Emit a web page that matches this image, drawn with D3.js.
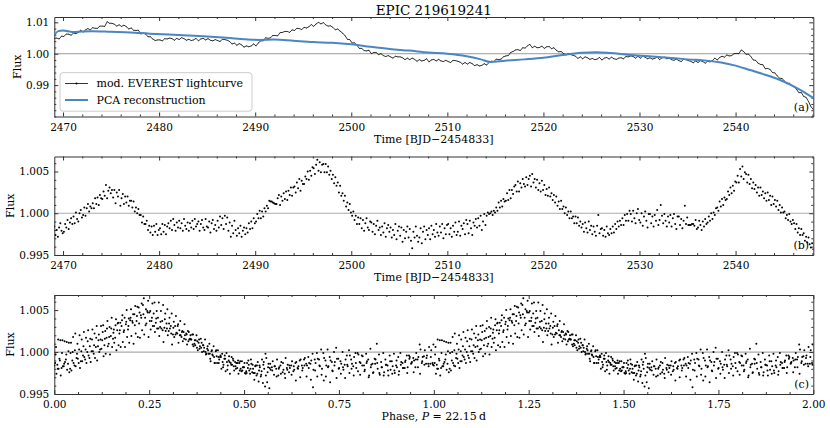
<!DOCTYPE html>
<html>
<head>
<meta charset="utf-8">
<title>EPIC 219619241</title>
<script src="https://d3js.org/d3.v7.min.js"></script>
<style>
  body { margin: 0; background: #fff; }
  svg { font-family: "DejaVu Serif", serif; }
  .tick text { font-family: "DejaVu Serif", serif; font-size: 10.5px; fill: #000; }
  .domain, .tick line { stroke: #333; }
  .lbl { font-size: 11px; fill: #000; }
</style>
</head>
<body>
<div id="chart"></div>
<script>
// sampling of the K2 light curve (BJD-2454833)
const tStart = 2469.09;
const rawCadence = 0.25;    // panel (a), days
const detCadence = 0.125;   // panels (b) and (c), days
const period = 22.15;       // folding period, days

// panel (a): modified EVEREST flux, one row per day
const rawFlux = [
  1.0049, 1.0050, 1.0047, 1.0056,
  1.0055, 1.0063, 1.0062, 1.0059,
  1.0066, 1.0064, 1.0068, 1.0075,
  1.0069, 1.0076, 1.0080, 1.0076,
  1.0083, 1.0081, 1.0081, 1.0088,
  1.0088, 1.0087, 1.0102, 1.0097,
  1.0097, 1.0094, 1.0088, 1.0092,
  1.0087, 1.0091, 1.0086, 1.0079,
  1.0082, 1.0075, 1.0074, 1.0075,
  1.0063, 1.0065, 1.0063, 1.0054,
  1.0054, 1.0047, 1.0042, 1.0044,
  1.0044, 1.0041, 1.0048, 1.0047,
  1.0050, 1.0048, 1.0043, 1.0049,
  1.0045, 1.0051, 1.0048, 1.0043,
  1.0046, 1.0042, 1.0044, 1.0049,
  1.0041, 1.0047, 1.0049, 1.0044,
  1.0048, 1.0043, 1.0041, 1.0045,
  1.0042, 1.0039, 1.0046, 1.0045,
  1.0043, 1.0039, 1.0031, 1.0034,
  1.0027, 1.0032, 1.0028, 1.0021,
  1.0025, 1.0022, 1.0025, 1.0031,
  1.0025, 1.0035, 1.0041, 1.0041,
  1.0051, 1.0049, 1.0051, 1.0058,
  1.0058, 1.0057, 1.0067, 1.0068,
  1.0071, 1.0071, 1.0068, 1.0076,
  1.0074, 1.0081, 1.0080, 1.0077,
  1.0084, 1.0082, 1.0086, 1.0093,
  1.0087, 1.0095, 1.0100, 1.0095,
  1.0099, 1.0092, 1.0088, 1.0089,
  1.0084, 1.0076, 1.0079, 1.0072,
  1.0066, 1.0058, 1.0046, 1.0045,
  1.0034, 1.0035, 1.0027, 1.0017,
  1.0017, 1.0010, 1.0009, 1.0011,
  1.0000, 1.0004, 1.0004, 0.9997,
  1.0000, 0.9994, 0.9991, 0.9994,
  0.9990, 0.9986, 0.9992, 0.9990,
  0.9990, 0.9987, 0.9981, 0.9986,
  0.9981, 0.9986, 0.9982, 0.9976,
  0.9981, 0.9977, 0.9979, 0.9984,
  0.9974, 0.9980, 0.9982, 0.9977,
  0.9982, 0.9977, 0.9975, 0.9979,
  0.9975, 0.9972, 0.9979, 0.9978,
  0.9976, 0.9973, 0.9967, 0.9972,
  0.9967, 0.9972, 0.9968, 0.9962,
  0.9965, 0.9961, 0.9963, 0.9968,
  0.9964, 0.9972, 0.9976, 0.9975,
  0.9983, 0.9981, 0.9983, 0.9990,
  0.9993, 0.9994, 1.0004, 1.0007,
  1.0012, 1.0013, 1.0010, 1.0019,
  1.0018, 1.0025, 1.0030, 1.0019,
  1.0024, 1.0019, 1.0020, 1.0024,
  1.0017, 1.0022, 1.0023, 1.0016,
  1.0019, 1.0011, 1.0006, 1.0007,
  1.0001, 0.9996, 1.0001, 0.9997,
  0.9995, 0.9992, 0.9985, 0.9990,
  0.9984, 0.9990, 0.9987, 0.9982,
  0.9985, 0.9981, 0.9983, 0.9988,
  0.9980, 0.9986, 0.9988, 0.9983,
  0.9989, 0.9984, 0.9982, 0.9986,
  0.9987, 0.9984, 0.9991, 0.9990,
  0.9993, 0.9991, 0.9986, 0.9992,
  0.9986, 0.9992, 0.9989, 0.9984,
  0.9987, 0.9983, 0.9985, 0.9990,
  0.9981, 0.9987, 0.9989, 0.9984,
  0.9986, 0.9981, 0.9979, 0.9983,
  0.9978, 0.9975, 0.9982, 0.9981,
  0.9978, 0.9976, 0.9971, 0.9977,
  0.9972, 0.9978, 0.9975, 0.9970,
  0.9976, 0.9974, 0.9978, 0.9986,
  0.9980, 0.9988, 0.9992, 0.9989,
  0.9996, 0.9993, 0.9994, 1.0000,
  1.0001, 1.0000, 1.0012, 1.0007,
  0.9998, 0.9999, 0.9991, 0.9980,
  0.9979, 0.9970, 0.9966, 0.9965,
  0.9952, 0.9953, 0.9950, 0.9940,
  0.9939, 0.9929, 0.9922, 0.9921,
  0.9913, 0.9904, 0.9906, 0.9899,
  0.9894, 0.9887, 0.9876, 0.9876,
  0.9864, 0.9861, 0.9848, 0.9832,
  0.9822
];

// panel (a): PCA reconstruction of the systematics
const pcaTime = [2469.09, 2469.5, 2470.0, 2471, 2472, 2473, 2475, 2477, 2479, 2481,
  2483, 2485, 2487, 2489, 2490.5, 2492, 2494, 2496, 2498, 2500, 2502, 2504, 2506,
  2508, 2510, 2512, 2513.5, 2514.5, 2516, 2518, 2520, 2522, 2524, 2525.5, 2527,
  2529, 2531, 2533, 2535, 2537, 2538.5, 2540, 2541.5, 2543, 2544.5, 2546, 2547, 2548.09];
const pcaFlux = [1.0058, 1.0072, 1.0074, 1.0069, 1.0071, 1.0072, 1.0070, 1.0068, 1.0064, 1.0061,
  1.0058, 1.0055, 1.0051, 1.0046, 1.0044, 1.0045, 1.0041, 1.0037, 1.0035, 1.0030, 1.0022, 1.0015, 1.0010,
  1.0004, 1.0000, 0.9992, 0.9982, 0.9974, 0.9978, 0.9982, 0.9987, 0.9996, 1.0003, 1.0005, 1.0002,
  0.9996, 0.9992, 0.9987, 0.9982, 0.9978, 0.9972, 0.9962, 0.9948, 0.9934, 0.9918, 0.9897, 0.9880, 0.9859];

// panel (b): detrended flux, one row (8 cadences) per day
const detrendedFlux = [
  0.9984, 0.9974, 0.9980, 0.9972, 0.9983, 0.9988, 0.9979, 0.9976,
  0.9978, 0.9987, 0.9983, 0.9992, 0.9981, 0.9989, 0.9994, 0.9987,
  0.9996, 0.9988, 1.0001, 0.9993, 0.9990, 1.0000, 1.0004, 0.9995,
  0.9998, 1.0007, 0.9997, 1.0006, 1.0011, 1.0002, 1.0008, 1.0006,
  1.0012, 1.0006, 1.0018, 1.0011, 1.0019, 1.0010, 1.0022, 1.0018,
  1.0017, 1.0026, 1.0021, 1.0034, 1.0018, 1.0027, 1.0031, 1.0024,
  1.0028, 1.0019, 1.0028, 1.0012, 1.0025, 1.0020, 1.0028, 1.0009,
  1.0018, 1.0023, 1.0011, 1.0020, 1.0013, 1.0020, 1.0009, 1.0015,
  1.0015, 1.0007, 1.0014, 1.0002, 1.0007, 1.0000, 1.0005, 0.9998,
  0.9998, 0.9989, 0.9996, 0.9987, 0.9987, 0.9991, 0.9980, 0.9985,
  0.9977, 0.9984, 0.9974, 0.9985, 0.9978, 0.9987, 0.9974, 0.9980,
  0.9982, 0.9975, 0.9987, 0.9978, 0.9986, 0.9975, 0.9984, 0.9988,
  0.9982, 0.9991, 0.9980, 0.9993, 0.9986, 0.9979, 0.9989, 0.9983,
  0.9991, 0.9982, 0.9988, 0.9979, 0.9993, 0.9985, 0.9981, 0.9989,
  0.9979, 0.9988, 0.9983, 0.9991, 0.9981, 0.9993, 0.9984, 0.9987,
  0.9990, 0.9979, 0.9987, 0.9992, 0.9983, 0.9980, 0.9993, 0.9984,
  0.9983, 0.9990, 0.9977, 0.9988, 0.9992, 0.9981, 0.9986, 0.9979,
  0.9991, 0.9983, 0.9996, 0.9986, 0.9994, 0.9981, 0.9997, 0.9987,
  0.9995, 0.9979, 0.9989, 0.9972, 0.9985, 0.9976, 0.9991, 0.9980,
  0.9973, 0.9982, 0.9976, 0.9985, 0.9972, 0.9979, 0.9983, 0.9975,
  0.9982, 0.9977, 0.9988, 0.9981, 0.9990, 0.9982, 0.9994, 0.9988,
  0.9990, 0.9999, 0.9994, 1.0003, 0.9994, 1.0002, 0.9996, 1.0006,
  1.0002, 1.0009, 1.0006, 1.0015, 1.0014, 1.0014, 1.0013, 1.0012,
  1.0011, 1.0011, 1.0018, 1.0022, 1.0010, 1.0020, 1.0015, 1.0024,
  1.0017, 1.0026, 1.0016, 1.0027, 1.0022, 1.0031, 1.0021, 1.0031,
  1.0032, 1.0025, 1.0037, 1.0030, 1.0041, 1.0027, 1.0039, 1.0035,
  1.0035, 1.0044, 1.0041, 1.0050, 1.0040, 1.0051, 1.0045, 1.0055,
  1.0054, 1.0047, 1.0058, 1.0064, 1.0051, 1.0061, 1.0049, 1.0058,
  1.0059, 1.0049, 1.0059, 1.0049, 1.0056, 1.0046, 1.0051, 1.0041,
  1.0046, 1.0036, 1.0043, 1.0033, 1.0037, 1.0025, 1.0033, 1.0021,
  1.0024, 1.0015, 1.0021, 1.0008, 1.0013, 1.0004, 1.0011, 1.0001,
  0.9997, 1.0002, 0.9992, 0.9997, 0.9987, 0.9995, 0.9987, 0.9994,
  0.9982, 0.9992, 0.9979, 0.9988, 0.9994, 0.9983, 0.9980, 0.9990,
  0.9989, 0.9978, 0.9987, 0.9975, 0.9985, 0.9991, 0.9980, 0.9983,
  0.9974, 0.9984, 0.9977, 0.9988, 0.9972, 0.9982, 0.9986, 0.9978,
  0.9983, 0.9971, 0.9980, 0.9974, 0.9987, 0.9969, 0.9979, 0.9984,
  0.9973, 0.9983, 0.9966, 0.9980, 0.9970, 0.9978, 0.9984, 0.9971,
  0.9981, 0.9967, 0.9958, 0.9978, 0.9971, 0.9984, 0.9973, 0.9966,
  0.9971, 0.9982, 0.9964, 0.9978, 0.9984, 0.9969, 0.9980, 0.9974,
  0.9982, 0.9969, 0.9985, 0.9975, 0.9980, 0.9972, 0.9987, 0.9977,
  0.9973, 0.9984, 0.9977, 0.9987, 0.9970, 0.9982, 0.9975, 0.9986,
  0.9987, 0.9975, 0.9982, 0.9972, 0.9985, 0.9978, 0.9989, 0.9974,
  0.9978, 0.9990, 0.9973, 0.9985, 0.9981, 0.9988, 0.9975, 0.9992,
  0.9987, 0.9976, 0.9991, 0.9982, 0.9974, 0.9989, 0.9985, 0.9993,
  0.9983, 0.9994, 0.9985, 0.9997, 0.9980, 0.9990, 0.9999, 0.9986,
  0.9997, 1.0001, 0.9999, 1.0000, 1.0002, 0.9998, 1.0003, 1.0001,
  1.0007, 1.0003, 1.0013, 1.0007, 1.0015, 1.0008, 1.0017, 1.0014,
  1.0015, 1.0024, 1.0016, 1.0028, 1.0018, 1.0028, 1.0023, 1.0032,
  1.0034, 1.0026, 1.0038, 1.0026, 1.0036, 1.0031, 1.0041, 1.0035,
  1.0032, 1.0043, 1.0034, 1.0041, 1.0045, 1.0032, 1.0047, 1.0037,
  1.0041, 1.0031, 1.0040, 1.0028, 1.0036, 1.0026, 1.0039, 1.0028,
  1.0034, 1.0022, 1.0029, 1.0021, 1.0031, 1.0020, 1.0024, 1.0016,
  1.0022, 1.0013, 1.0020, 1.0009, 1.0014, 1.0005, 1.0015, 1.0005,
  1.0008, 1.0000, 1.0007, 0.9998, 1.0002, 0.9994, 1.0002, 0.9994,
  0.9996, 0.9988, 0.9996, 0.9988, 0.9995, 0.9985, 0.9990, 0.9983,
  0.9987, 0.9978, 0.9989, 0.9982, 0.9977, 0.9990, 0.9980, 0.9985,
  0.9975, 0.9984, 0.9978, 0.9973, 0.9985, 0.9998, 0.9976, 0.9981,
  0.9982, 0.9973, 0.9980, 0.9972, 0.9984, 0.9976, 0.9974, 0.9981,
  0.9976, 0.9984, 0.9977, 0.9987, 0.9981, 0.9990, 0.9984, 0.9991,
  0.9986, 0.9994, 0.9986, 0.9998, 0.9991, 0.9999, 0.9991, 1.0003,
  0.9999, 0.9990, 1.0003, 0.9994, 0.9988, 1.0000, 1.0005, 0.9992,
  0.9989, 1.0000, 0.9985, 0.9996, 1.0002, 0.9991, 0.9983, 0.9999,
  0.9999, 0.9988, 0.9996, 0.9984, 0.9998, 0.9991, 1.0004, 0.9986,
  0.9992, 1.0010, 0.9997, 0.9988, 0.9999, 0.9991, 0.9984, 0.9996,
  0.9989, 0.9998, 0.9984, 0.9994, 0.9999, 0.9987, 0.9981, 0.9996,
  0.9996, 0.9986, 0.9993, 0.9982, 0.9991, 1.0009, 0.9987, 0.9995,
  0.9986, 0.9986, 0.9986, 0.9987, 0.9987, 0.9985, 0.9992, 0.9981,
  0.9983, 0.9991, 0.9986, 0.9980, 0.9990, 0.9984, 0.9993, 0.9987,
  0.9989, 0.9996, 0.9991, 1.0000, 0.9993, 1.0001, 0.9998, 1.0006,
  1.0007, 1.0003, 1.0014, 1.0008, 1.0017, 1.0010, 1.0019, 1.0016,
  1.0017, 1.0026, 1.0022, 1.0031, 1.0024, 1.0033, 1.0027, 1.0038,
  1.0037, 1.0045, 1.0037, 1.0053, 1.0044, 1.0056, 1.0041, 1.0049,
  1.0047, 1.0037, 1.0046, 1.0035, 1.0041, 1.0030, 1.0037, 1.0029,
  1.0034, 1.0025, 1.0031, 1.0021, 1.0031, 1.0022, 1.0026, 1.0018,
  1.0024, 1.0015, 1.0025, 1.0016, 1.0021, 1.0010, 1.0020, 1.0011,
  1.0016, 1.0008, 1.0015, 1.0004, 1.0010, 1.0001, 1.0007, 1.0001,
  1.0002, 0.9994, 0.9998, 0.9992, 0.9999, 0.9990, 0.9987, 0.9992,
  0.9988, 0.9981, 0.9987, 0.9977, 0.9982, 0.9974, 0.9981, 0.9974,
  0.9976, 0.9967, 0.9972, 0.9965, 0.9971, 0.9963, 0.9959, 0.9964,
  0.9957
];

const timeTicks = [2470, 2480, 2490, 2500, 2510, 2520, 2530, 2540];
const phaseTicks = [0, 0.25, 0.5, 0.75, 1, 1.25, 1.5, 1.75, 2];
const fluxTicksA = [0.99, 1.00, 1.01];
const fluxTicksB = [0.995, 1.000, 1.005];

const width = 830, height = 428;
const left = 54.3, right = 813.3;
const blue = "#4a86c2";

const svg = d3.select("#chart").append("svg")
    .attr("width", width)
    .attr("height", height);

const rawTime = rawFlux.map((f, i) => tStart + i * rawCadence);
const detTime = detrendedFlux.map((f, i) => tStart + i * detCadence);

// fold panel (b) on the period, shown twice
const folded = [];
detrendedFlux.forEach((f, i) => {
    const ph = ((detTime[i] - tStart) % period) / period;
    folded.push([ph, f], [ph + 1, f]);
});

const xTime = d3.scaleLinear().domain(d3.extent(detTime)).range([left, right]);
const xPhase = d3.scaleLinear().domain([0, 2]).range([left, right]);
const yA = d3.scaleLinear().domain([0.9800, 1.0117]).range([116.5, 17]);
const yB = d3.scaleLinear().domain([0.995, 1.0068]).range([255, 156.5]);
const yC = d3.scaleLinear().domain([0.995, 1.0068]).range([394, 295]);

function minorTicks(scale, step, major) {
    const [a, b] = scale.domain();
    return d3.range(Math.ceil(a / step - 1e-9) * step, b + 1e-9, step)
        .filter(v => !major.some(m => Math.abs(m - v) < step / 10));
}

function frame(x, y, xMajor, xStep, yMajor, yStep, xFmt, yFmt, refColor, refWidth, labelX) {
    const [y0, y1] = y.range();   // bottom, top
    const g = svg.append("g");

    // reference line at unit flux
    g.append("line")
        .attr("x1", left).attr("x2", right)
        .attr("y1", y(1)).attr("y2", y(1))
        .attr("stroke", refColor).attr("stroke-width", refWidth);

    const xMinor = minorTicks(x, xStep, xMajor);
    const yMinor = minorTicks(y, yStep, yMajor);
    const clean = s => s.attr("font-size", null).attr("font-family", null);

    g.append("g").attr("transform", `translate(0,${y0})`)
        .call(d3.axisBottom(x).tickValues(xMajor).tickFormat(xFmt).tickSizeInner(-4).tickSizeOuter(0).tickPadding(7))
        .call(clean);
    g.append("g").attr("transform", `translate(0,${y0})`)
        .call(d3.axisBottom(x).tickValues(xMinor).tickFormat("").tickSizeInner(-2).tickSizeOuter(0))
        .call(s => s.select(".domain").remove());
    g.append("g").attr("transform", `translate(0,${y1})`)
        .call(d3.axisTop(x).tickValues(xMajor).tickFormat("").tickSizeInner(-4).tickSizeOuter(0));
    g.append("g").attr("transform", `translate(0,${y1})`)
        .call(d3.axisTop(x).tickValues(xMinor).tickFormat("").tickSizeInner(-2).tickSizeOuter(0))
        .call(s => s.select(".domain").remove());

    g.append("g").attr("transform", `translate(${left},0)`)
        .call(d3.axisLeft(y).tickValues(yMajor).tickFormat(yFmt).tickSizeInner(-4).tickSizeOuter(0).tickPadding(5))
        .call(clean);
    g.append("g").attr("transform", `translate(${left},0)`)
        .call(d3.axisLeft(y).tickValues(yMinor).tickFormat("").tickSizeInner(-2).tickSizeOuter(0))
        .call(s => s.select(".domain").remove());
    g.append("g").attr("transform", `translate(${right},0)`)
        .call(d3.axisRight(y).tickValues(yMajor).tickFormat("").tickSizeInner(-4).tickSizeOuter(0));
    g.append("g").attr("transform", `translate(${right},0)`)
        .call(d3.axisRight(y).tickValues(yMinor).tickFormat("").tickSizeInner(-2).tickSizeOuter(0))
        .call(s => s.select(".domain").remove());

    g.append("text").attr("class", "lbl")
        .attr("transform", `translate(${labelX},${(y0 + y1) / 2}) rotate(-90)`)
        .attr("text-anchor", "middle")
        .text("Flux");
    return g;
}

function clip(id, y) {
    svg.append("clipPath").attr("id", id).append("rect")
        .attr("x", left).attr("y", y.range()[1])
        .attr("width", right - left).attr("height", y.range()[0] - y.range()[1]);
}

// ---- panel (a)
clip("clipA", yA);
frame(xTime, yA, timeTicks, 2, fluxTicksA, 0.002, d3.format("d"), d3.format(".2f"), "#999", 1, 20.5);

const pa = svg.append("g").attr("clip-path", "url(#clipA)");
pa.append("path")
    .datum(rawFlux)
    .attr("fill", "none")
    .attr("stroke", "#000")
    .attr("stroke-width", 0.8)
    .attr("d", d3.line().x((d, i) => xTime(rawTime[i])).y(d => yA(d)));
pa.selectAll(".rawpt")
    .data(rawFlux)
    .enter().append("circle")
    .attr("class", "rawpt")
    .attr("cx", (d, i) => xTime(rawTime[i]))
    .attr("cy", d => yA(d))
    .attr("r", 0.4)
    .attr("fill", "#000");
pa.append("path")
    .datum(pcaFlux)
    .attr("fill", "none")
    .attr("stroke", blue)
    .attr("stroke-width", 2)
    .attr("d", d3.line().curve(d3.curveMonotoneX).x((d, i) => xTime(pcaTime[i])).y(d => yA(d)));

// legend
const lg = svg.append("g");
lg.append("rect")
    .attr("x", 60).attr("y", 72.7).attr("width", 192).attr("height", 38.5)
    .attr("rx", 3)
    .attr("fill", "#fff").attr("fill-opacity", 0.8)
    .attr("stroke", "#ccc").attr("stroke-width", 1);
lg.append("line").attr("x1", 65).attr("x2", 88).attr("y1", 83.5).attr("y2", 83.5)
    .attr("stroke", "#000").attr("stroke-width", 0.8);
lg.append("circle").attr("cx", 76.5).attr("cy", 83.5).attr("r", 1).attr("fill", "#000");
lg.append("text").attr("class", "lbl").attr("x", 96.5).attr("y", 83.5).attr("dy", "0.35em")
    .text("mod. EVEREST lightcurve");
lg.append("line").attr("x1", 65).attr("x2", 88).attr("y1", 100).attr("y2", 100)
    .attr("stroke", blue).attr("stroke-width", 2);
lg.append("text").attr("class", "lbl").attr("x", 96.5).attr("y", 100).attr("dy", "0.35em")
    .text("PCA reconstruction");

// ---- panel (b)
clip("clipB", yB);
frame(xTime, yB, timeTicks, 2, fluxTicksB, 0.001, d3.format("d"), d3.format(".3f"), "#aaa", 1.2, 13.5);
svg.append("g").attr("clip-path", "url(#clipB)")
    .selectAll("circle")
    .data(detrendedFlux)
    .enter().append("circle")
    .attr("cx", (d, i) => xTime(detTime[i]))
    .attr("cy", d => yB(d))
    .attr("r", 1)
    .attr("fill", "#000");

// ---- panel (c)
clip("clipC", yC);
frame(xPhase, yC, phaseTicks, 0.0625, fluxTicksB, 0.001, d3.format(".2f"), d3.format(".3f"), "#aaa", 1.2, 13.5);
svg.append("g").attr("clip-path", "url(#clipC)")
    .selectAll("circle")
    .data(folded)
    .enter().append("circle")
    .attr("cx", d => xPhase(d[0]))
    .attr("cy", d => yC(d[1]))
    .attr("r", 1)
    .attr("fill", "#000");

// ---- texts
const mid = (left + right) / 2;
svg.append("text")
    .attr("x", mid).attr("y", 15)
    .attr("text-anchor", "middle")
    .attr("font-size", "13.5px")
    .text("EPIC 219619241");

[143, 281].forEach(yy => {
    svg.append("text").attr("class", "lbl")
        .attr("x", mid).attr("y", yy)
        .attr("text-anchor", "middle")
        .text("Time [BJD\u22122454833]");
});

const ph = svg.append("text").attr("class", "lbl")
    .attr("x", mid).attr("y", 420)
    .attr("text-anchor", "middle");
ph.append("tspan").text("Phase, ");
ph.append("tspan").attr("font-style", "italic").text("P");
ph.append("tspan").text(" = 22.15\u2009d");

[["(a)", 110.5], ["(b)", 249], ["(c)", 388]].forEach(([t, yy]) => {
    svg.append("text").attr("class", "lbl")
        .attr("x", 809).attr("y", yy)
        .attr("text-anchor", "end")
        .text(t);
});
</script>
</body>
</html>
